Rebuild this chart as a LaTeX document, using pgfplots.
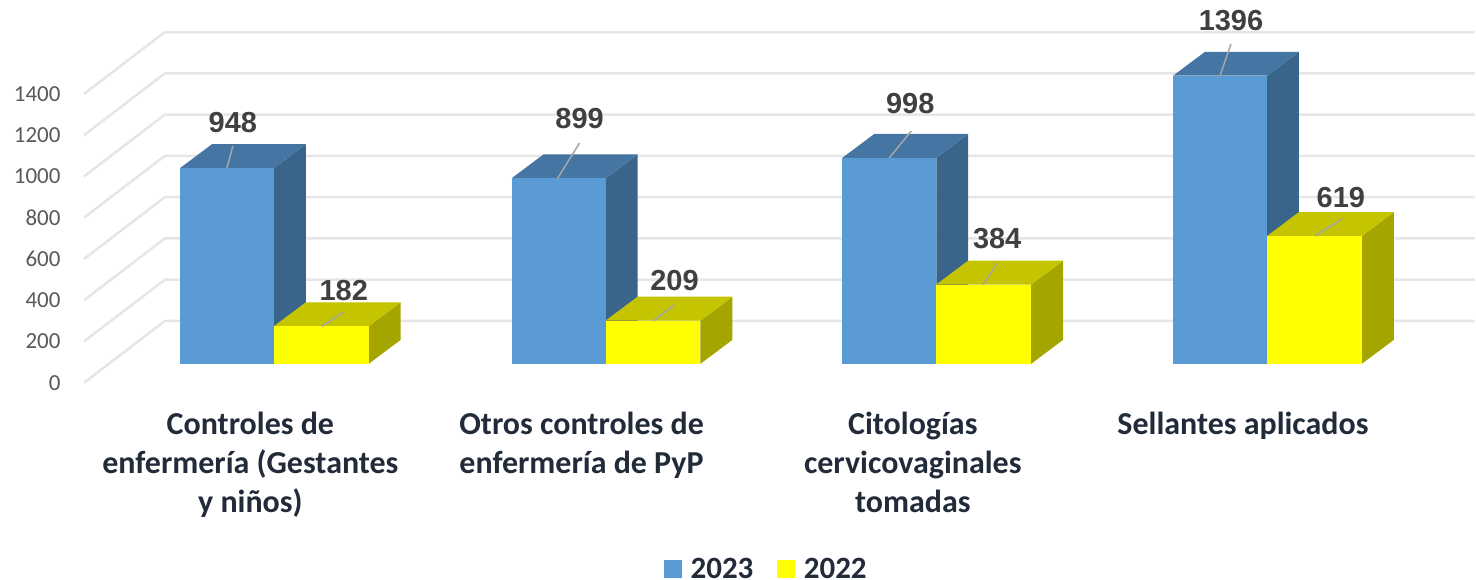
\documentclass[border=0pt]{standalone}
\usepackage{pgfplots}
\pgfplotsset{compat=1.18}
\usepackage{fontspec}
\setmainfont{Carlito}
\newfontfamily\valfont{Liberation Sans}
\definecolor{blueF}{HTML}{5B9BD5}
\definecolor{blueT}{HTML}{4475A3}
\definecolor{blueS}{HTML}{3A658A}
\definecolor{yelF}{HTML}{FFFF00}
\definecolor{yelT}{HTML}{C4C400}
\definecolor{yelS}{HTML}{A5A500}
\definecolor{gridc}{HTML}{E6E6E6}
\definecolor{tickc}{HTML}{595959}
\definecolor{valc}{HTML}{404040}
\definecolor{catc}{HTML}{222B3A}
\definecolor{leadc}{HTML}{A6A6A6}
% depth of a bar in data units: 32 px right, 116 units up
\newcommand{\gridline}[1]{\addplot[gridc,line width=2.5pt,forget plot] coordinates {(84,#1-92) (165,#1+208) (1476,#1+208)};}
\newcommand{\boxbar}[6]{% left x, width, value, top, side, front
  \addplot[fill=#5,draw=none,forget plot] coordinates {(#1+#2,0) (#1+#2+32,116) (#1+#2+32,#3+116) (#1+#2,#3)} --cycle;
  \addplot[fill=#4,draw=none,forget plot] coordinates {(#1,#3) (#1+32,#3+116) (#1+#2+32,#3+116) (#1+#2,#3)} --cycle;
  \addplot[fill=#6,draw=none,forget plot] coordinates {(#1,0) (#1,#3) (#1+#2,#3) (#1+#2,0)} --cycle;
}
\newcommand{\leader}[4]{\addplot[leadc,line width=1.5pt,forget plot] coordinates {(#1,#2) (#3,#4)};}
\pgfplotstableread{
x y label
233 1170 948
344 356 182
580 1190 899
675 404 209
911 1261 998
998 607 384
1232 1663 1396
1342 806 619
}\labels
\begin{document}
\begin{tikzpicture}
\begin{axis}[
  scale only axis, width=1476pt, height=580pt,
  xmin=0, xmax=1476, ymin=-1046, ymax=1762.7,
  axis line style={draw=none},
  major tick length=0pt,
  ytick={0,200,...,1400},
  xtick={250.5,582,913.5,1244},
  xticklabels={Controles de\\enfermería (Gestantes\\y niños),Otros controles de\\enfermería de PyP,Citologías\\cervicovaginales\\tomadas,Sellantes aplicados},
  /pgf/number format/assume math mode=true,
  /pgf/number format/1000 sep={},
  yticklabel style={font=\fontsize{23}{27}\selectfont,text=tickc,anchor=east,xshift=64pt,yshift=-19pt},
  xticklabel style={font=\fontsize{32}{39}\selectfont\bfseries,text=catc,align=center,anchor=north,yshift=171pt},
  clip=false,
  legend image code/.code={\fill[draw=none,#1] (0pt,-9pt) rectangle (18pt,9pt);\path (26.5pt,0pt);},
  legend style={at={(axis cs:766,-993)},anchor=center,draw=none,fill=none,inner sep=0pt,outer sep=0pt,
    legend columns=2,font=\fontsize{31}{33}\selectfont\bfseries,text=catc,
    /tikz/every even column/.append style={column sep=24pt},
    nodes={inner sep=0pt,outer sep=0pt}},
]
\addlegendimage{fill=blueF,draw=none}\addlegendentry{2023}
\addlegendimage{fill=yelF,draw=none}\addlegendentry{2022}
\gridline{0}\gridline{200}\gridline{400}\gridline{600}\gridline{800}\gridline{1000}\gridline{1200}\gridline{1400}
\boxbar{180}{94}{948}{blueT}{blueS}{blueF}
\boxbar{274}{95}{182}{yelT}{yelS}{yelF}
\boxbar{512}{94}{899}{blueT}{blueS}{blueF}
\boxbar{606}{95}{209}{yelT}{yelS}{yelF}
\boxbar{843}{94}{998}{blueT}{blueS}{blueF}
\boxbar{937}{95}{384}{yelT}{yelS}{yelF}
\boxbar{1174}{94}{1396}{blueT}{blueS}{blueF}
\boxbar{1268}{95}{619}{yelT}{yelS}{yelF}
\leader{227}{948}{233}{1056}
\leader{322}{182}{344}{252}
\leader{558}{899}{580}{1070}
\leader{654}{209}{675}{286}
\leader{890}{998}{912}{1128}
\leader{984}{384}{998}{489}
\leader{1221}{1396}{1232}{1550}
\leader{1316}{619}{1343}{702}
\addplot[draw=none,mark=none,forget plot,point meta=explicit symbolic,
  nodes near coords,nodes near coords align={center},
  every node near coord/.append style={font=\valfont\fontsize{29}{32}\selectfont\bfseries,text=valc,inner sep=0pt,anchor=center}]
  table[x=x,y=y,meta=label] {\labels};
\end{axis}
\end{tikzpicture}
\end{document}
